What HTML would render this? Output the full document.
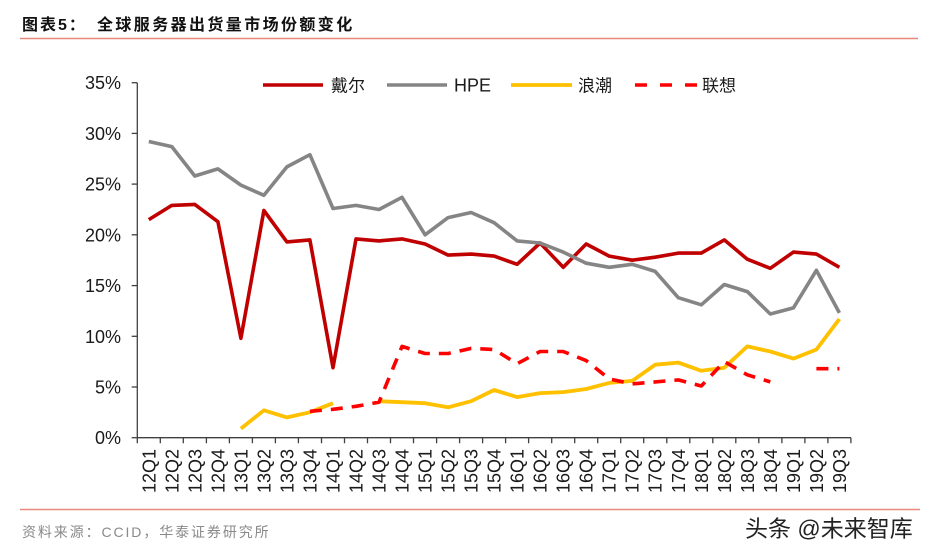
<!DOCTYPE html>
<html>
<head>
<meta charset="utf-8">
<style>
html,body{margin:0;padding:0;background:#fff;}
body{width:930px;height:556px;overflow:hidden;position:relative;}
svg{position:absolute;left:0;top:0;}
</style>
</head>
<body>
<svg width="930" height="556" viewBox="0 0 930 556" xmlns="http://www.w3.org/2000/svg">
  <!-- title -->
  <text x="22" y="30" font-family="Liberation Sans, Noto Sans CJK SC, sans-serif" font-size="16" font-weight="bold" fill="#111" letter-spacing="2">图表5：</text>
  <text x="97" y="30" font-family="Liberation Sans, Noto Sans CJK SC, sans-serif" font-size="16" font-weight="bold" fill="#111" letter-spacing="2.4">全球服务器出货量市场份额变化</text>
  <line x1="20" y1="38.5" x2="918" y2="38.5" stroke="#E8887C" stroke-width="1.6"/>

  <!-- axes -->
  <g stroke="#404040" stroke-width="1.3" fill="none">
    <line x1="137.3" y1="82.7" x2="137.3" y2="437.7"/>
    <line x1="137.3" y1="437.7" x2="851" y2="437.7"/>
    <!-- y ticks -->
    <line x1="131.7" y1="82.7" x2="137.3" y2="82.7"/>
    <line x1="131.7" y1="133.4" x2="137.3" y2="133.4"/>
    <line x1="131.7" y1="184.1" x2="137.3" y2="184.1"/>
    <line x1="131.7" y1="234.8" x2="137.3" y2="234.8"/>
    <line x1="131.7" y1="285.6" x2="137.3" y2="285.6"/>
    <line x1="131.7" y1="336.3" x2="137.3" y2="336.3"/>
    <line x1="131.7" y1="387.0" x2="137.3" y2="387.0"/>
    <line x1="131.7" y1="437.7" x2="137.3" y2="437.7"/>
    <!-- x ticks -->
    <path d="M137.3 437.7v5.5M160.3 437.7v5.5M183.3 437.7v5.5M206.4 437.7v5.5M229.4 437.7v5.5M252.4 437.7v5.5M275.4 437.7v5.5M298.4 437.7v5.5M321.5 437.7v5.5M344.5 437.7v5.5M367.5 437.7v5.5M390.5 437.7v5.5M413.5 437.7v5.5M436.6 437.7v5.5M459.6 437.7v5.5M482.6 437.7v5.5M505.6 437.7v5.5M528.6 437.7v5.5M551.7 437.7v5.5M574.7 437.7v5.5M597.7 437.7v5.5M620.7 437.7v5.5M643.7 437.7v5.5M666.8 437.7v5.5M689.8 437.7v5.5M712.8 437.7v5.5M735.8 437.7v5.5M758.8 437.7v5.5M781.9 437.7v5.5M804.9 437.7v5.5M827.9 437.7v5.5M850.9 437.7v5.5"/>
  </g>

  <!-- y labels -->
  <g font-family="Liberation Sans, sans-serif" font-size="18" fill="#1a1a1a" text-anchor="end">
    <text x="121" y="89.2">35%</text>
    <text x="121" y="139.9">30%</text>
    <text x="121" y="190.6">25%</text>
    <text x="121" y="241.3">20%</text>
    <text x="121" y="292.1">15%</text>
    <text x="121" y="342.8">10%</text>
    <text x="121" y="393.5">5%</text>
    <text x="121" y="444.2">0%</text>
  </g>

  <!-- x labels -->
  <g font-family="Liberation Sans, sans-serif" font-size="18" fill="#1a1a1a" text-anchor="end">
    <text transform="translate(155.3,449) rotate(-90)">12Q1</text>
    <text transform="translate(178.3,449) rotate(-90)">12Q2</text>
    <text transform="translate(201.3,449) rotate(-90)">12Q3</text>
    <text transform="translate(224.4,449) rotate(-90)">12Q4</text>
    <text transform="translate(247.4,449) rotate(-90)">13Q1</text>
    <text transform="translate(270.4,449) rotate(-90)">13Q2</text>
    <text transform="translate(293.4,449) rotate(-90)">13Q3</text>
    <text transform="translate(316.4,449) rotate(-90)">13Q4</text>
    <text transform="translate(339.5,449) rotate(-90)">14Q1</text>
    <text transform="translate(362.5,449) rotate(-90)">14Q2</text>
    <text transform="translate(385.5,449) rotate(-90)">14Q3</text>
    <text transform="translate(408.5,449) rotate(-90)">14Q4</text>
    <text transform="translate(431.6,449) rotate(-90)">15Q1</text>
    <text transform="translate(454.6,449) rotate(-90)">15Q2</text>
    <text transform="translate(477.6,449) rotate(-90)">15Q3</text>
    <text transform="translate(500.6,449) rotate(-90)">15Q4</text>
    <text transform="translate(523.6,449) rotate(-90)">16Q1</text>
    <text transform="translate(546.6,449) rotate(-90)">16Q2</text>
    <text transform="translate(569.7,449) rotate(-90)">16Q3</text>
    <text transform="translate(592.7,449) rotate(-90)">16Q4</text>
    <text transform="translate(615.7,449) rotate(-90)">17Q1</text>
    <text transform="translate(638.7,449) rotate(-90)">17Q2</text>
    <text transform="translate(661.7,449) rotate(-90)">17Q3</text>
    <text transform="translate(684.8,449) rotate(-90)">17Q4</text>
    <text transform="translate(707.8,449) rotate(-90)">18Q1</text>
    <text transform="translate(730.8,449) rotate(-90)">18Q2</text>
    <text transform="translate(753.8,449) rotate(-90)">18Q3</text>
    <text transform="translate(776.8,449) rotate(-90)">18Q4</text>
    <text transform="translate(799.9,449) rotate(-90)">19Q1</text>
    <text transform="translate(822.9,449) rotate(-90)">19Q2</text>
    <text transform="translate(845.9,449) rotate(-90)">19Q3</text>
  </g>

  <!-- series -->
  <g fill="none" stroke-linejoin="round">
    <!-- Dell -->
    <polyline stroke="#C00000" stroke-width="3.6" points="148.8,219.6 171.8,205.4 194.8,204.4 217.9,221.7 240.9,338.3 263.9,210.5 286.9,241.9 309.9,239.9 333.0,367.7 356.0,238.9 379.0,240.9 402.0,238.9 425.1,244.0 448.1,255.1 471.1,254.1 494.1,256.1 517.1,264.3 540.1,243.0 563.2,267.3 586.2,244.0 609.2,256.1 632.2,260.2 655.2,257.2 678.3,253.1 701.3,253.1 724.3,239.9 747.3,259.2 770.3,268.3 793.4,252.1 816.4,254.1 839.4,267.3"/>
    <!-- HPE -->
    <polyline stroke="#858585" stroke-width="3.6" points="148.8,141.5 171.8,146.6 194.8,176.0 217.9,168.9 240.9,185.1 263.9,195.3 286.9,166.9 309.9,154.7 333.0,208.5 356.0,205.4 379.0,209.5 402.0,197.3 425.1,234.8 448.1,217.6 471.1,212.5 494.1,222.7 517.1,240.9 540.1,243.0 563.2,252.1 586.2,263.2 609.2,267.3 632.2,264.3 655.2,271.4 678.3,297.7 701.3,304.8 724.3,284.5 747.3,291.6 770.3,314.0 793.4,307.9 816.4,270.3 839.4,312.9"/>
    <!-- Inspur -->
    <polyline stroke="#FFC000" stroke-width="3.8" points="240.9,428.6 263.9,410.3 286.9,417.4 309.9,412.3 333.0,403.2"/>
    <polyline stroke="#FFC000" stroke-width="3.8" points="379.0,401.2 402.0,402.2 425.1,403.2 448.1,407.3 471.1,401.2 494.1,390.0 517.1,397.1 540.1,393.1 563.2,392.1 586.2,389.0 609.2,382.9 632.2,380.9 655.2,364.7 678.3,362.6 701.3,370.8 724.3,367.7 747.3,346.4 770.3,351.5 793.4,358.6 816.4,349.5 839.4,319.0"/>
    <!-- Lenovo -->
    <polyline stroke="#FF0000" stroke-width="3.6" stroke-dasharray="12 9" points="309.9,411.3 333.0,409.3 356.0,406.3 379.0,402.2 402.0,346.4 425.1,353.5 448.1,353.5 471.1,348.4 494.1,349.5 517.1,363.7 540.1,351.5 563.2,351.5 586.2,360.6 609.2,378.9 632.2,383.9 655.2,381.9 678.3,379.9 701.3,386.0 724.3,361.6 747.3,374.8 770.3,381.9"/>
    <polyline stroke="#FF0000" stroke-width="3.6" stroke-dasharray="12 9" points="816.4,368.7 839.4,368.7"/>
  </g>

  <!-- legend -->
  <g font-family="Liberation Sans, Noto Sans CJK SC, sans-serif" font-size="18" fill="#1a1a1a">
    <line x1="263" y1="85" x2="323" y2="85" stroke="#C00000" stroke-width="3.6"/>
    <text x="331" y="91.5" font-size="17">戴尔</text>
    <line x1="387" y1="85" x2="447" y2="85" stroke="#858585" stroke-width="3.6"/>
    <text x="454" y="91.5">HPE</text>
    <line x1="511" y1="85" x2="572" y2="85" stroke="#FFC000" stroke-width="3.8"/>
    <text x="578" y="91.5" font-size="17">浪潮</text>
    <line x1="635" y1="85" x2="697" y2="85" stroke="#FF0000" stroke-width="3.6" stroke-dasharray="12 13"/>
    <text x="702" y="91.5" font-size="17">联想</text>
  </g>

  <!-- footer -->
  <line x1="20" y1="509.5" x2="920" y2="509.5" stroke="#E8887C" stroke-width="1.6"/>
  <text x="22" y="537" font-family="Liberation Sans, Noto Sans CJK SC, sans-serif" font-size="14" fill="#8a8a8a" letter-spacing="1.9">资料来源：CCID，华泰证券研究所</text>
  <text x="745" y="536.5" font-family="Liberation Sans, Noto Sans CJK SC, sans-serif" font-size="23" fill="#222" stroke="#fff" stroke-width="0.5" style="paint-order:stroke">头条 @未来智库</text>
</svg>
</body>
</html>
